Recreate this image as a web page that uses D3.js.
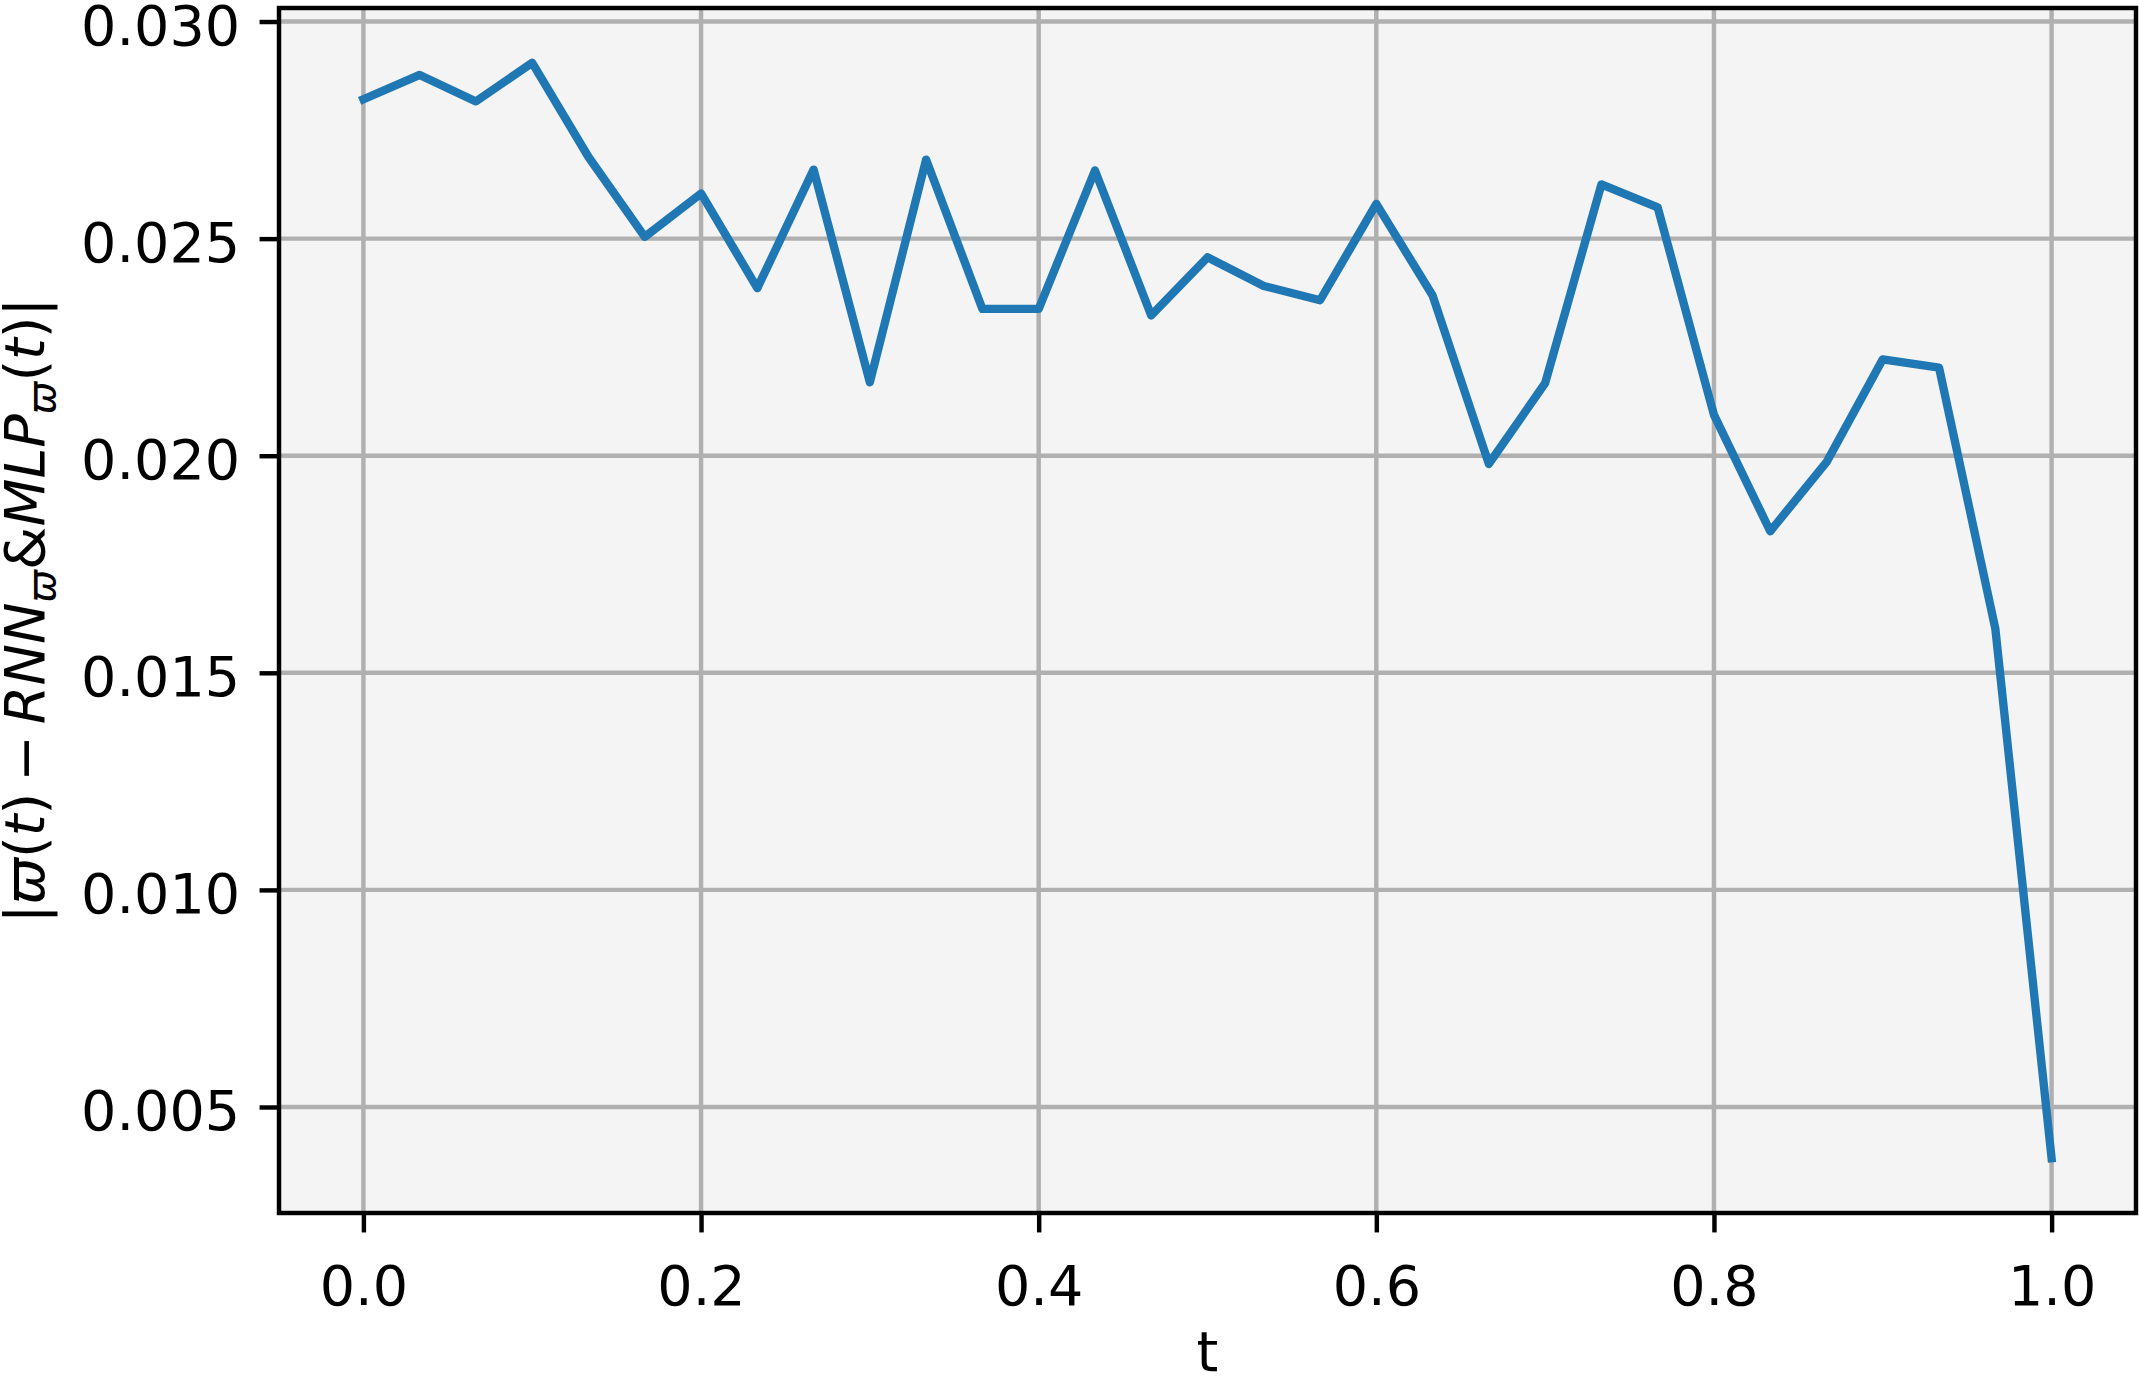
<html>
  <head>
        <meta charset="utf-8">
        <title>line chart</title>
  </head>
  <style>
    body { margin: 0; background: #ffffff; }
  </style>
<body>

<script src="https://cdn.jsdelivr.net/npm/d3@7/dist/d3.min.js" charset="utf-8"></script>
<script>

// data: 31 points, t = i/30
var tValues = d3.range(31).map(function(i){ return i / 30; });
var errValues = [0.02821, 0.02877, 0.02816, 0.02905, 0.02688, 0.02504, 0.02604, 0.02386,
                 0.02659, 0.02169, 0.02682, 0.02338, 0.02338, 0.02657, 0.02323, 0.02457,
                 0.02391, 0.02358, 0.02580, 0.02369, 0.01981, 0.02167, 0.02625, 0.02572,
                 0.02094, 0.01826, 0.01985, 0.02222, 0.02203, 0.01602, 0.00382];
var xTicks = [0.0, 0.2, 0.4, 0.6, 0.8, 1.0];
var yTicks = [0.005, 0.010, 0.015, 0.020, 0.025, 0.030];

var width  = 2139;	// SVG width
var height = 1384;	// SVG height
var pt = 400 / 72;	// one point in pixels (figure was saved at 400 dpi)

var margin = { left: 279, top: 8, right: 2139 - 2136, bottom: 1384 - 1213 };
var plotW = width - margin.left - margin.right;
var plotH = height - margin.top - margin.bottom;

var svg = d3.select("body")
			.append("svg")
			.attr("width", width)
			.attr("height", height)
			.style("font-family", "'DejaVu Sans'");

// matplotlib style 5% margins
var xPad = (d3.max(tValues) - d3.min(tValues)) * 0.05;
var yPad = (d3.max(errValues) - d3.min(errValues)) * 0.05;

var x = d3.scaleLinear()
			.domain([d3.min(tValues) - xPad, d3.max(tValues) + xPad])
			.range([0, plotW]);
var y = d3.scaleLinear()
			.domain([d3.min(errValues) - yPad, d3.max(errValues) + yPad])
			.range([plotH, 0]);

var g = svg.append("g")
			.attr("transform", "translate(" + margin.left + "," + margin.top + ")");

// axes background
g.append("rect")
	.attr("width", plotW)
	.attr("height", plotH)
	.attr("fill", "#f4f4f4");

// grid
g.selectAll(".vgrid").data(xTicks).enter()
	.append("line")
	.attr("x1", function(d){ return x(d); })
	.attr("x2", function(d){ return x(d); })
	.attr("y1", 0).attr("y2", plotH)
	.attr("stroke", "#b0b0b0")
	.attr("stroke-width", 0.8 * pt);
g.selectAll(".hgrid").data(yTicks).enter()
	.append("line")
	.attr("y1", function(d){ return y(d); })
	.attr("y2", function(d){ return y(d); })
	.attr("x1", 0).attr("x2", plotW)
	.attr("stroke", "#b0b0b0")
	.attr("stroke-width", 0.8 * pt);

// the line
var line = d3.line()
			.x(function(d, i){ return x(tValues[i]); })
			.y(function(d){ return y(d); });

g.append("path")
	.datum(errValues)
	.attr("d", line)
	.attr("fill", "none")
	.attr("stroke", "#1f77b4")
	.attr("stroke-width", 1.5 * pt)
	.attr("stroke-linejoin", "round")
	.attr("stroke-linecap", "square");

// spines
g.append("rect")
	.attr("width", plotW)
	.attr("height", plotH)
	.attr("fill", "none")
	.attr("stroke", "#000")
	.attr("stroke-width", 0.8 * pt);

// axes
var xAxis = d3.axisBottom(x)
			.tickValues(xTicks)
			.tickFormat(d3.format(".1f"))
			.tickSize(3.5 * pt)
			.tickPadding(3.5 * pt);
var yAxis = d3.axisLeft(y)
			.tickValues(yTicks)
			.tickFormat(d3.format(".3f"))
			.tickSize(3.5 * pt)
			.tickPadding(3.5 * pt);

var gx = g.append("g")
			.attr("transform", "translate(0," + plotH + ")")
			.call(xAxis);
var gy = g.append("g").call(yAxis);

[gx, gy].forEach(function(a){
	a.select(".domain").remove();
	a.selectAll(".tick line").attr("stroke", "#000").attr("stroke-width", 0.8 * pt);
	a.selectAll(".tick text")
		.attr("fill", "#000")
		.style("font-family", "'DejaVu Sans'")
		.style("font-size", (10 * pt) + "px");
});
gx.selectAll(".tick text").attr("dy", "0.96em");
gy.selectAll(".tick text").attr("dy", "0.41em");

// x label
svg.append("text")
	.attr("x", margin.left + plotW / 2)
	.attr("y", 1371)
	.attr("text-anchor", "middle")
	.style("font-size", (10 * pt) + "px")
	.text("t");

// y label: |ϖ(t) − RNN_ϖ & MLP_ϖ(t)|
var ylab = svg.append("text")
			.attr("transform", "translate(44," + (margin.top + plotH / 2) + ") rotate(-90)")
			.attr("text-anchor", "middle")
			.style("font-size", (10 * pt) + "px");

var parts = [
	["|", "normal", 0], ["ϖ", "italic", 0], ["(", "normal", 0], ["t", "italic", 0], [")", "normal", 0],
	["\u2009−\u2009", "normal", 0], ["RNN", "italic", 0], ["ϖ", "italic", 1], ["&", "normal", 0],
	["MLP", "italic", 0], ["ϖ", "italic", 1], ["(", "normal", 0], ["t", "italic", 0], [")|", "normal", 0]
];
var shift = 0;
parts.forEach(function(p){
	var sub = p[2] === 1;
	var down = sub ? 0.2 : 0;
	ylab.append("tspan")
		.attr("dy", ((down - shift) * 10 * pt) + "px")
		.style("font-style", p[1])
		.style("font-size", sub ? (7 * pt) + "px" : null)
		.text(p[0]);
	shift = down;
});

</script>

</body>
</html>
